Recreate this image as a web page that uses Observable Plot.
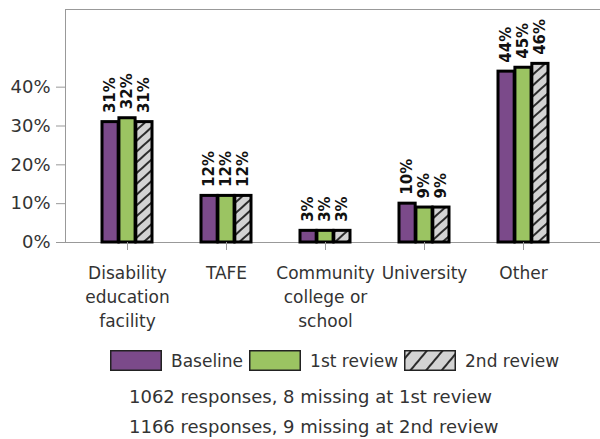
<!DOCTYPE html>
<html>
<head>
<meta charset="utf-8">
<script src="https://cdn.jsdelivr.net/npm/d3@7"></script>
<script src="https://cdn.jsdelivr.net/npm/@observablehq/plot@0.6"></script>
<style>
  body { margin: 0; background: #fff; font-family: "DejaVu Sans", sans-serif; color: #333; }
  #defs { position: absolute; width: 0; height: 0; overflow: hidden; }
  #chart svg { display: block; }
  #legend { display: flex; align-items: center; margin-left: 110px; margin-top: 10px; height: 21px; font-size: 17px; }
  #legend .sw { display: block; width: 52px; height: 21px; margin-right: 9px; }
  #legend .item { display: flex; align-items: center; margin-right: 6px; }
  #caption { margin-left: 129px; margin-top: 11px; font-size: 18px; line-height: 30px; }
</style>
</head>
<body>
<svg id="defs" aria-hidden="true">
  <defs>
    <pattern id="hatch" patternUnits="userSpaceOnUse" width="8" height="8" patternTransform="rotate(48)">
      <rect width="8" height="8" fill="#d3d3d3"></rect>
      <line x1="4" y1="-1" x2="4" y2="9" stroke="#000" stroke-width="1.6"></line>
    </pattern>
    <pattern id="hatchLegend" patternUnits="userSpaceOnUse" width="12" height="12" patternTransform="rotate(40)">
      <rect width="12" height="12" fill="#d3d3d3"></rect>
      <line x1="6" y1="-1" x2="6" y2="13" stroke="#000" stroke-width="1.6"></line>
    </pattern>
  </defs>
</svg>
<div id="chart"></div>
<div id="legend"></div>
<div id="caption"></div>
<script>
const categories = ["Disability education facility", "TAFE", "Community college or school", "University", "Other"];
const categoryLabels = ["Disability\neducation\nfacility", "TAFE", "Community\ncollege or\nschool", "University", "Other"];
const seriesNames = ["Baseline", "1st review", "2nd review"];
const baseline = [31, 12, 3, 10, 44];
const review1 = [32, 12, 3, 9, 45];
const review2 = [31, 12, 3, 9, 46];
const yTicks = [0, 10, 20, 30, 40];
const seriesFills = ["#7b4a8a", "#9bc462", "url(#hatch)"];
const captionLines = ["1062 responses, 8 missing at 1st review", "1166 responses, 9 missing at 2nd review"];

const seriesValues = [baseline, review1, review2];
const labelOf = new Map(categories.map((c, i) => [c, categoryLabels[i]]));

const W = 600, H = 340, ML = 65, MR = 0, MT = 9, MB = 98;
const xOpts = {domain: categories, paddingInner: 0.49, paddingOuter: 0.433, align: 0.42};
const xs = Plot.scale({x: {type: "band", ...xOpts, range: [ML, W - MR]}});
const w = xs.bandwidth / 3;

const seriesMarks = seriesNames.flatMap((s, j) => {
  const data = categories.map((c, i) => ({category: c, series: s, value: seriesValues[j][i]}));
  return [
    Plot.barY(data, {x: "category", y: "value", fill: "series", stroke: "#000", strokeWidth: 3,
      insetLeft: j * w, insetRight: (2 - j) * w}),
    Plot.text(data, {x: "category", y: "value", text: d => d.value + "%", rotate: -90,
      textAnchor: "start", dx: (j - 1) * w, dy: -9, fontWeight: "bold", fontSize: 15, fill: "#111"})
  ];
});

const chart = Plot.plot({
  width: W,
  height: H,
  marginTop: MT,
  marginLeft: ML,
  marginRight: MR,
  marginBottom: MB,
  style: {fontFamily: "DejaVu Sans", fontSize: "17px", color: "#333", background: "#fff", overflow: "visible"},
  x: {...xOpts, label: null},
  y: {domain: [0, 60], label: null},
  color: {domain: seriesNames, range: seriesFills},
  marks: [
    Plot.frame({anchor: "left", stroke: "#999"}),
    Plot.frame({anchor: "top", stroke: "#999"}),
    Plot.frame({anchor: "bottom", stroke: "#999"}),
    ...seriesMarks,
    Plot.axisY({ticks: yTicks, tickFormat: d => d + "%", tickSize: 9, tickPadding: 6, stroke: "#999", fill: "#333", fontSize: 18, label: null}),
    Plot.axisX({anchor: "bottom", tickFormat: d => labelOf.get(d), tickSize: 8, tickPadding: 12, stroke: "#999", fill: "#333", fontSize: 17, lineHeight: 1.4, label: null})
  ]
});
document.getElementById("chart").appendChild(chart);

const legend = document.getElementById("legend");
const legendFills = ["#7b4a8a", "#9bc462", "url(#hatchLegend)"];
seriesNames.forEach((s, j) => {
  const item = document.createElement("div");
  item.className = "item";
  item.innerHTML = `<svg class="sw" width="52" height="21"><rect x="0.75" y="0.75" width="50.5" height="19.5" fill="${legendFills[j]}" stroke="#222" stroke-width="1.5"></rect></svg><span>${s}</span>`;
  legend.appendChild(item);
});
const cap = document.getElementById("caption");
captionLines.forEach(t => { const d = document.createElement("div"); d.textContent = t; cap.appendChild(d); });
</script>
</body>
</html>
